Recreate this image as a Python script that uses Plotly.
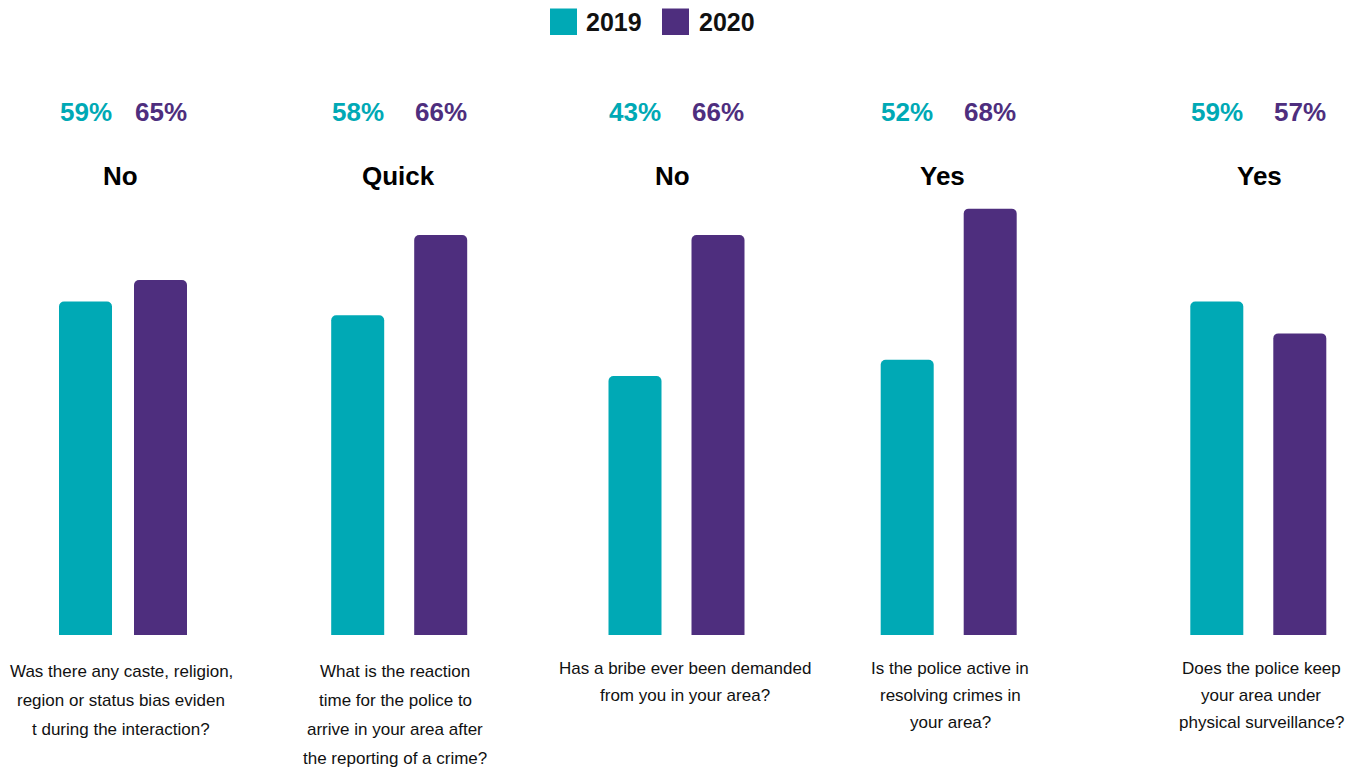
import plotly.graph_objects as go

# ---------------- data ----------------
years = ["2019", "2020"]
answers = ["No", "Quick", "No", "Yes", "Yes"]
label_2019 = [59, 58, 43, 52, 59]
label_2020 = [65, 66, 66, 68, 57]
# bar heights as drawn in the picture (they are not proportional to the labels)
bar_2019 = [53.2, 51.0, 41.3, 43.9, 53.2]
bar_2020 = [56.6, 63.8, 63.8, 68.0, 48.1]
questions = [
    ["Was there any caste, religion,", "region or status bias eviden", "t during the interaction?"],
    ["What is the reaction", "time for the police to", "arrive in your area after", "the reporting of a crime?"],
    ["Has a bribe ever been demanded", "from you in your area?"],
    ["Is the police active in", "resolving crimes in", "your area?"],
    ["Does the police keep", "your area under", "physical surveillance?"],
]

# ---------------- style / layout ----------------
W, H = 1357, 772
TEAL = "#00A9B5"
PURPLE = "#4E2E7E"
FONT = "Liberation Sans, Arial, sans-serif"

panel_left_px = [48.0, 316.2, 593.5, 865.7, 1175.3]
panel_width_px = [150, 166, 166, 166, 166]
bar_px = 53
title_x_px = [120.5, 398, 672.5, 942, 1259]
question_x_px = [121, 395, 685, 950, 1261]
question_top_px = [671, 671, 668, 668, 668]
question_step_px = [29, 29.3, 27, 27, 27]

base_px = 635
px_per_unit = 6.27
y_max = 80

def py(px):
    return 1 - px / H

y_dom = [(H - base_px) / H, (H - base_px + y_max * px_per_unit) / H]

fig = go.Figure()
layout_axes = {}
annotations = []

for i in range(5):
    n = "" if i == 0 else str(i + 1)
    xa, ya = "x" + n, "y" + n
    left = panel_left_px[i] / W
    right = (panel_left_px[i] + panel_width_px[i]) / W
    cat_w = panel_width_px[i] / 2
    fig.add_trace(go.Bar(
        x=years, y=[bar_2019[i], bar_2020[i]],
        marker=dict(color=[TEAL, PURPLE], cornerradius=5, line=dict(width=0)),
        width=bar_px / cat_w,
        xaxis=xa, yaxis=ya, showlegend=False, hoverinfo="skip",
    ))
    layout_axes["xaxis" + n] = dict(domain=[left, right], anchor=ya, visible=False,
                                    type="category", range=[-0.5, 1.5], fixedrange=True)
    layout_axes["yaxis" + n] = dict(domain=y_dom, anchor=xa, visible=False,
                                    range=[0, y_max], fixedrange=True)
    # percentage labels above each bar (x given as category index)
    for j, (lab, col) in enumerate([(label_2019[i], TEAL), (label_2020[i], PURPLE)]):
        annotations.append(dict(
            x=j, xref=xa, y=py(112), yref="paper",
            text=f"<b>{lab}%</b>", showarrow=False, xanchor="center", yanchor="middle",
            font=dict(family=FONT, size=26, color=col),
        ))
    # answer title
    annotations.append(dict(
        x=title_x_px[i] / W, xref="paper", y=py(176), yref="paper",
        text=f"<b>{answers[i]}</b>", showarrow=False, xanchor="center", yanchor="middle",
        font=dict(family=FONT, size=26, color="#000000"),
    ))
    # question lines
    for k, line in enumerate(questions[i]):
        annotations.append(dict(
            x=question_x_px[i] / W, xref="paper",
            y=py(question_top_px[i] + k * question_step_px[i]), yref="paper",
            text=line, showarrow=False, xanchor="center", yanchor="middle",
            font=dict(family=FONT, size=17, color="#111111"),
        ))

# legend (drawn manually to match the large swatches)
legend_items = [(years[0], TEAL, 550, 584), (years[1], PURPLE, 662, 697)]
shapes = []
for name, col, sx, tx in legend_items:
    shapes.append(dict(type="rect", xref="paper", yref="paper",
                       x0=sx / W, x1=(sx + 27) / W, y0=py(35), y1=py(8.5),
                       fillcolor=col, line=dict(width=0)))
    annotations.append(dict(
        x=tx / W, xref="paper", y=py(22), yref="paper",
        text=f"<b>{name}</b>", showarrow=False, xanchor="left", yanchor="middle",
        font=dict(family=FONT, size=25, color="#111111"),
    ))

fig.update_layout(
    width=W, height=H,
    margin=dict(l=0, r=0, t=0, b=0),
    paper_bgcolor="white", plot_bgcolor="white",
    annotations=annotations, shapes=shapes,
    showlegend=False,
    **layout_axes,
)

fig.write_html("out.html", config={"displayModeBar": False})
